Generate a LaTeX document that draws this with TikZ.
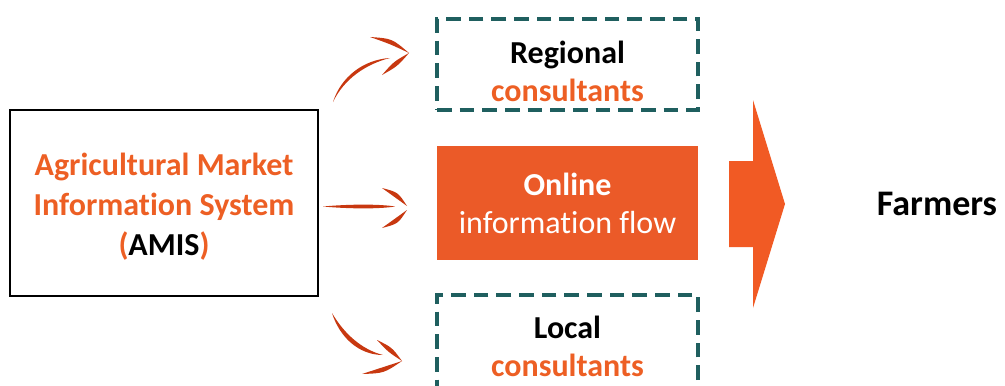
\documentclass[tikz,border=0pt]{standalone}
\usepackage{fontspec}
\setmainfont{Carlito}[Ligatures=NoCommon]
\definecolor{amisorange}{RGB}{237,95,36}
\definecolor{flowfill}{RGB}{235,90,40}
\definecolor{bigarrow}{RGB}{241,90,36}
\definecolor{boxteal}{RGB}{31,95,95}
\definecolor{brushred}{RGB}{200,56,16}
\begin{document}
\begin{tikzpicture}[x=0.75pt, y=-0.75pt,
    txt/.style={font=\fontsize{24}{28.5}\selectfont, align=center},
    dashbox/.style={draw=boxteal, line width=2.3pt, dash pattern=on 11pt off 6pt,
        minimum width=195.75pt, minimum height=68.25pt},
    brush/.style={fill=brushred, draw=none}]
    \useasboundingbox (0,0) rectangle (1005,385);

    % source system
    \node[draw, line width=1.5pt, minimum width=231pt, minimum height=139.5pt] (amis) at (164,203) {};
    \node[txt, font=\fontsize{24}{30}\selectfont\bfseries, yshift=-3pt] (amistext) at (amis.center)
        {\textcolor{amisorange}{Agricultural Market}\\
         \textcolor{amisorange}{Information System}\\
         \textcolor{amisorange}{(}AMIS\textcolor{amisorange}{)}};

    % three channels
    \node[dashbox] (regional) at (567.5,64.5) {};
    \node[txt, yshift=-5pt] (regionaltext) at (regional.center)
        {\textbf{Regional}\\\textcolor{amisorange}{\textbf{consultants}}};
    \node[txt, fill=flowfill, text=white, minimum width=195.75pt, minimum height=85.5pt] (online) at (567.5,203)
        {\textbf{Online}\\information flow};
    \node[dashbox, minimum height=72pt] (local) at (567.5,343) {};
    \node[txt, yshift=-2.25pt] (localtext) at (local.center)
        {\textbf{Local}\\\textcolor{amisorange}{\textbf{consultants}}};

    % big arrow and target
    \fill[bigarrow] (729,161) -- (753,161) -- (753,100) -- (785,204)
        -- (753,308) -- (753,247) -- (729,247) -- cycle;
    \node[txt, font=\fontsize{27}{30}\selectfont\bfseries] (farmers) at (937,204) {Farmers};

    % brush arrow, upper
    \fill[brush] (333,102) .. controls (341,76.5) and (364,59.5) .. (390,58)
        .. controls (366,64) and (344,79) .. (333,102);
    \fill[brush] (370,37) .. controls (392,38.5) .. (409,53) .. controls (390,44) .. (370,37);
    \fill[brush] (409,53) .. controls (397.4,66.3) .. (382,75) .. controls (393.6,61.7) .. (409,53);

    % brush arrow, middle
    \fill[brush] (323,206.5) .. controls (350,204) and (380,204) .. (395,206.5)
        .. controls (380,209) and (350,209) .. (323,206.5);
    \fill[brush] (382,188) .. controls (398,192.2) .. (407,206) .. controls (394.5,197) .. (382,188);
    \fill[brush] (407,210) .. controls (398,223.8) .. (382,228) .. controls (394.5,219) .. (407,210);

    % brush arrow, lower
    \fill[brush] (332,313) .. controls (339.5,337) and (358.5,355) .. (383,355)
        .. controls (361.5,349.5) and (344,333.5) .. (332,313);
    \fill[brush] (377,340) .. controls (392,347.4) .. (402,361) .. controls (388.2,352) .. (377,340);
    \fill[brush] (402,361) .. controls (384,373.2) .. (362,374) .. controls (382,367.4) .. (402,361);
\end{tikzpicture}
\end{document}
